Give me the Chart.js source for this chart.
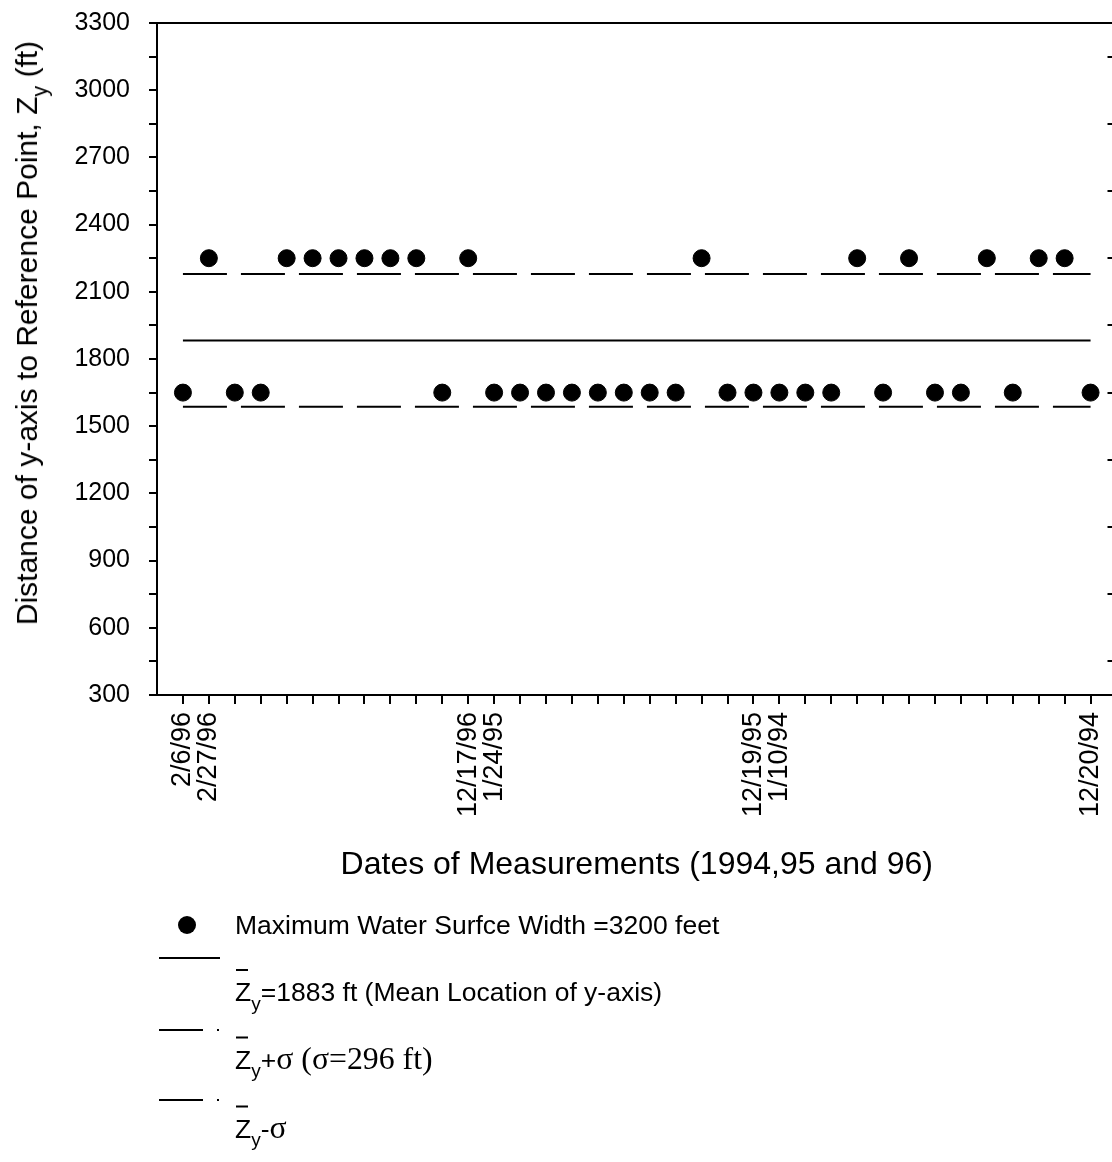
<!DOCTYPE html>
<html>
<head>
<meta charset="utf-8">
<script src="https://cdn.jsdelivr.net/npm/chart.js@4.4.1/dist/chart.umd.min.js"></script>
<style>
  html, body { margin: 0; padding: 0; background: #fff; overflow: hidden; width: 1112px; height: 1162px; }
  #wrap { position: absolute; left: 0; top: 0; width: 1125px; height: 1162px; }
  canvas { position: absolute; left: 0; top: 0; }
  .txt { position: absolute; font-family: "Liberation Sans", Arial, sans-serif; color: #000; white-space: nowrap; }
  .ytitle { left: 27px; top: 333px; font-size: 30px; transform: translate(-50%, -50%) rotate(-90deg); transform-origin: center center; }
  .ytitle sub, .leg sub { font-size: 0.72em; vertical-align: -0.45em; line-height: 0; }
  .leg { font-size: 26.5px; line-height: 30px; transform: translateY(-50%); }
  .serif { font-family: "Liberation Serif", "Times New Roman", serif; font-size: 1.2em; }
  .zb { position: relative; display: inline-block; }
  .zb::before { content: ""; position: absolute; left: 1px; right: 3px; top: -8px; height: 2px; background: #000; }
  .sym { position: absolute; background: #000; }
</style>
</head>
<body>
<div id="wrap">
  <canvas id="c" width="1125" height="1162"></canvas>
  <div class="txt ytitle">Distance of y-axis to Reference Point, Z<sub>y</sub> (ft)</div>

  <div class="sym" style="left:178px; top:916px; width:18px; height:18px; border-radius:50%;"></div>
  <div class="txt leg" style="left:235px; top:925px;">Maximum Water Surfce Width =3200 feet</div>

  <div class="sym" style="left:159px; top:957px; width:61px; height:2px;"></div>
  <div class="txt leg" style="left:235px; top:992px;"><span class="zb">Z</span><sub>y</sub>=1883 ft (Mean Location of y-axis)</div>

  <div class="sym" style="left:159px; top:1029px; width:44px; height:2px;"></div>
  <div class="sym" style="left:217px; top:1029px; width:2px; height:2px;"></div>
  <div class="txt leg" style="left:235px; top:1059px;"><span class="zb">Z</span><sub>y</sub>+<span class="serif">σ (σ=296 ft)</span></div>

  <div class="sym" style="left:159px; top:1099px; width:44px; height:2px;"></div>
  <div class="sym" style="left:217px; top:1099px; width:2px; height:2px;"></div>
  <div class="txt leg" style="left:235px; top:1128px;"><span class="zb">Z</span><sub>y</sub>-<span class="serif">σ</span></div>
</div>
<script>
// ---- data ----
const tickLabels = [
  "2/6/96", "2/27/96", "", "", "", "", "", "", "", "", "", "12/17/96",
  "1/24/95", "", "", "", "", "", "", "", "", "", "12/19/95", "1/10/94",
  "", "", "", "", "", "", "", "", "", "", "", "12/20/94"
];
const zyValues = [
  1650, 2250, 1650, 1650, 2250, 2250, 2250, 2250, 2250, 2250, 1650, 2250,
  1650, 1650, 1650, 1650, 1650, 1650, 1650, 1650, 2250, 1650, 1650, 1650,
  1650, 1650, 2250, 1650, 2250, 1650, 1650, 2250, 1650, 2250, 2250, 1650
];
const meanZy = 1883;
const sigmaZy = 296;
const yTickValues = [300, 450, 600, 750, 900, 1050, 1200, 1350, 1500, 1650, 1800, 1950,
  2100, 2250, 2400, 2550, 2700, 2850, 3000, 3150, 3300];
const yLabelValues = [300, 600, 900, 1200, 1500, 1800, 2100, 2400, 2700, 3000, 3300];
const rightTickValues = [450, 750, 1050, 1350, 1650, 1950, 2250, 2550, 2850, 3150];

const FONT = "'Liberation Sans', Arial, sans-serif";
const first = 0, last = tickLabels.length - 1;

const pts = zyValues.map((v, i) => ({ x: i, y: v }));
const hline = (v) => [{ x: first, y: v }, { x: last, y: v }];

const frame = {
  id: 'frame',
  afterDraw(chart) {
    const { ctx, chartArea: a, scales: { y } } = chart;
    ctx.save();
    ctx.strokeStyle = '#000';
    ctx.lineWidth = 2;
    ctx.beginPath();
    ctx.moveTo(a.left, a.top);
    ctx.lineTo(a.right, a.top);
    rightTickValues.forEach(v => {
      const py = Math.round(y.getPixelForValue(v));
      ctx.moveTo(a.right - 9, py);
      ctx.lineTo(a.right, py);
    });
    ctx.stroke();
    ctx.restore();
  }
};

new Chart(document.getElementById('c'), {
  type: 'scatter',
  data: {
    datasets: [
      { label: 'Maximum Water Surfce Width =3200 feet', data: pts, showLine: false,
        pointRadius: 8.5, pointBorderWidth: 1, backgroundColor: '#000', borderColor: '#000', order: 0 },
      { label: 'Mean', data: hline(meanZy), showLine: true, pointRadius: 0,
        borderColor: '#000', borderWidth: 2, order: 1 },
      { label: 'Mean+sigma', data: hline(meanZy + sigmaZy), showLine: true, pointRadius: 0,
        borderColor: '#000', borderWidth: 2, borderDash: [44, 14], order: 1 },
      { label: 'Mean-sigma', data: hline(meanZy - sigmaZy), showLine: true, pointRadius: 0,
        borderColor: '#000', borderWidth: 2, borderDash: [44, 14], order: 1 }
    ]
  },
  options: {
    responsive: false,
    animation: false,
    devicePixelRatio: 1,
    layout: { autoPadding: false, padding: { top: 23, right: 8.5, bottom: 267, left: 0 } },
    plugins: { legend: { display: false }, tooltip: { enabled: false } },
    scales: {
      x: {
        type: 'linear', position: 'bottom', min: first - 1, max: last + 1,
        afterBuildTicks: (s) => { s.ticks = tickLabels.map((_, i) => ({ value: i })); },
        afterFit: (s) => { s.height = 200; s.paddingLeft = 0; s.paddingRight = 0; },
        grid: { drawOnChartArea: false, drawTicks: true, tickLength: 9, color: '#000', lineWidth: 2 },
        border: { display: true, color: '#000', width: 2 },
        ticks: {
          autoSkip: false, maxRotation: 90, minRotation: 90, padding: 8,
          color: '#000', font: { family: FONT, size: 27 },
          callback: (v) => tickLabels[v] ?? ''
        },
        title: { display: true, text: 'Dates of Measurements (1994,95 and 96)', color: '#000',
          font: { family: FONT, size: 32 }, padding: { top: 0, bottom: 11 } }
      },
      y: {
        type: 'linear', position: 'left', min: 300, max: 3300,
        afterBuildTicks: (s) => { s.ticks = yTickValues.map(v => ({ value: v })); },
        afterFit: (s) => { s.width = 157; s.paddingTop = 0; s.paddingBottom = 0; },
        grid: { drawOnChartArea: false, drawTicks: true, tickLength: 8, color: '#000', lineWidth: 2 },
        border: { display: true, color: '#000', width: 2 },
        ticks: {
          autoSkip: false, padding: 19, color: '#000', font: { family: FONT, size: 25 },
          callback: (v) => yLabelValues.includes(v) ? String(v) : ''
        }
      }
    }
  },
  plugins: [frame]
});
</script>
</body>
</html>
